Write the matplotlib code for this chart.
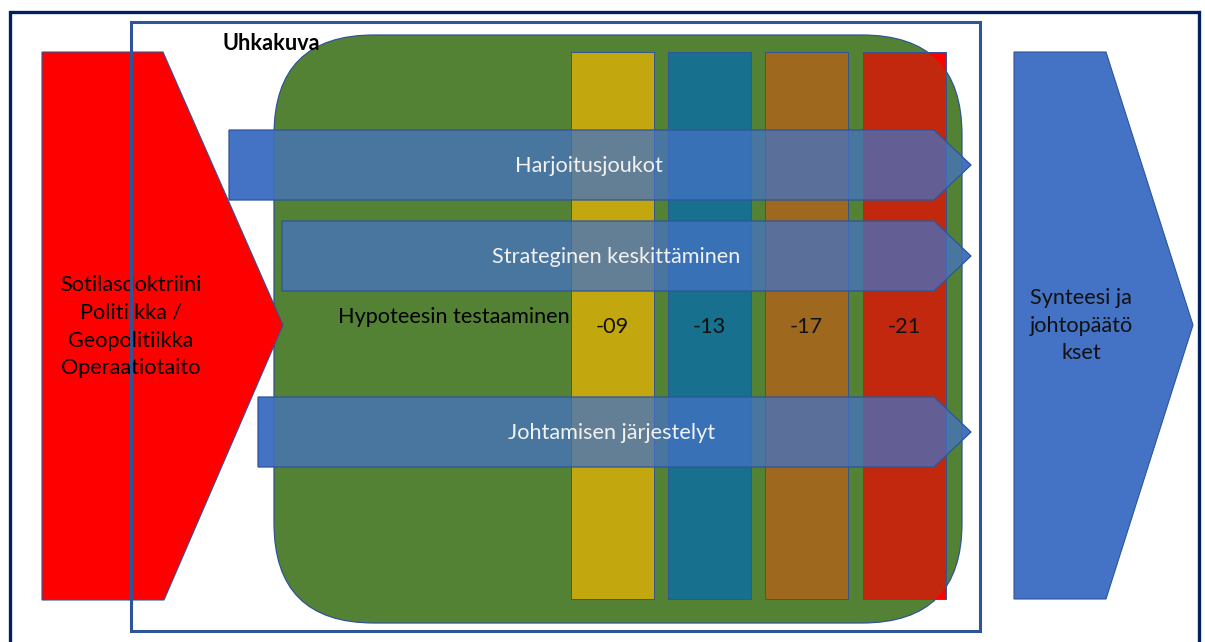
import matplotlib.pyplot as plt
from matplotlib.patches import Polygon, Rectangle, FancyBboxPatch

# labels in the diagram
left_lines = ['Sotilasdoktriini', 'Politiikka /', 'Geopolitiikka', 'Operaatiotaito']
right_lines = ['Synteesi ja', 'johtopäätö', 'kset']
arrow_labels = ['Harjoitusjoukot', 'Strateginen keskittäminen', 'Johtamisen järjestelyt']
years = ['-09', '-13', '-17', '-21']
year_colors = ['#C2A70F', '#18708F', '#9E681F', '#C1280E']
frame_title = 'Uhkakuva'
middle_label = 'Hypoteesin testaaminen'

# geometry (pixels)
arrow_left = [229, 282, 258]
arrow_top = [130, 221, 397]
arrow_h = 70
col_left = [571, 668, 765, 863]
col_w = 83

plt.rcParams['font.family'] = ['Lato', 'DejaVu Sans']
fs = 15.6

fig = plt.figure(figsize=(12.05, 6.42), dpi=100)
ax = fig.add_axes([0, 0, 1, 1])
ax.set_xlim(0, 1205)
ax.set_ylim(642, 0)
ax.axis('off')

navy = '#002060'
edge = '#2F5597'
blue = '#4472C4'

# outer frame
ax.plot([10, 10, 1199, 1199], [650, 11.5, 11.5, 650], color=navy, lw=2.4, zorder=1,
        solid_joinstyle='miter')

# blue chevron on the right
ax.add_patch(Polygon([(1014, 52), (1106, 52), (1193, 325), (1106, 599), (1014, 599)],
                     closed=True, fc=blue, ec=edge, lw=0.8, zorder=2))
for i, t in enumerate(right_lines):
    ax.text(1081, 298 + i * 27.5, t, ha='center', va='center', fontsize=fs,
            color='#111111', zorder=3)


def arrow_pts(x0, y0):
    return [(x0, y0), (934, y0), (971, y0 + arrow_h / 2), (934, y0 + arrow_h), (x0, y0 + arrow_h)]


# solid arrows below the green box (show where the background is white)
for x0, y0 in zip(arrow_left, arrow_top):
    ax.add_patch(Polygon(arrow_pts(x0, y0), closed=True, fc=blue, ec='none', zorder=4))

# green rounded box
green = FancyBboxPatch((274, 35), 688, 588, boxstyle='round,pad=0,rounding_size=100',
                       fc='#548235', ec=edge, lw=0.9, zorder=5)
ax.add_patch(green)

# red chevron on the left (its tip lies over the green box)
ax.add_patch(Polygon([(42, 52), (163, 52), (283, 325), (164, 600), (42, 600)],
                     closed=True, fc='#FF0000', ec=edge, lw=0.8, zorder=5.5))
for i, t in enumerate(left_lines):
    ax.text(131, 285 + i * 27.8, t, ha='center', va='center', fontsize=fs,
            color='black', zorder=5.6)

# year columns
for i, (x, c) in enumerate(zip(col_left, year_colors)):
    if i == len(col_left) - 1:
        ax.add_patch(Rectangle((x, 52), col_w, 547, fc='#FF0000', ec='none', zorder=6))
        inner = Rectangle((x, 52), col_w, 547, fc=c, ec='none', zorder=6.5)
        ax.add_patch(inner)
        inner.set_clip_path(green)
        ax.add_patch(Rectangle((x, 52), col_w, 547, fc='none', ec=edge, lw=0.7, zorder=6.6))
    else:
        ax.add_patch(Rectangle((x, 52), col_w, 547, fc=c, ec=edge, lw=0.7, zorder=6))
    ax.text(x + col_w / 2, 327, years[i], ha='center', va='center', fontsize=fs,
            color='#111111', zorder=7)

ax.text(338, 317, middle_label, ha='left', va='center', fontsize=fs, color='black', zorder=7)

# translucent arrows on top
arrow_text_x = [589, 616, 612]
for x0, y0, t, tx in zip(arrow_left, arrow_top, arrow_labels, arrow_text_x):
    ax.add_patch(Polygon(arrow_pts(x0, y0), closed=True, fc=blue, alpha=0.75,
                         ec='none', zorder=8))
    ax.add_patch(Polygon(arrow_pts(x0, y0), closed=True, fc='none', ec=edge, lw=0.9, zorder=8.1))
    ax.text(tx, y0 + arrow_h / 2 + 1, t, ha='center', va='center', fontsize=fs,
            color='#F2F2F2', zorder=9)

# inner frame
ax.add_patch(Rectangle((131, 21.5), 849, 609.5, fc='none', ec=edge, lw=2.2, zorder=10))
ax.text(222, 44, frame_title, ha='left', va='center', fontsize=fs, fontweight='bold',
        color='black', zorder=10)

fig.savefig('out.png', dpi=100)
